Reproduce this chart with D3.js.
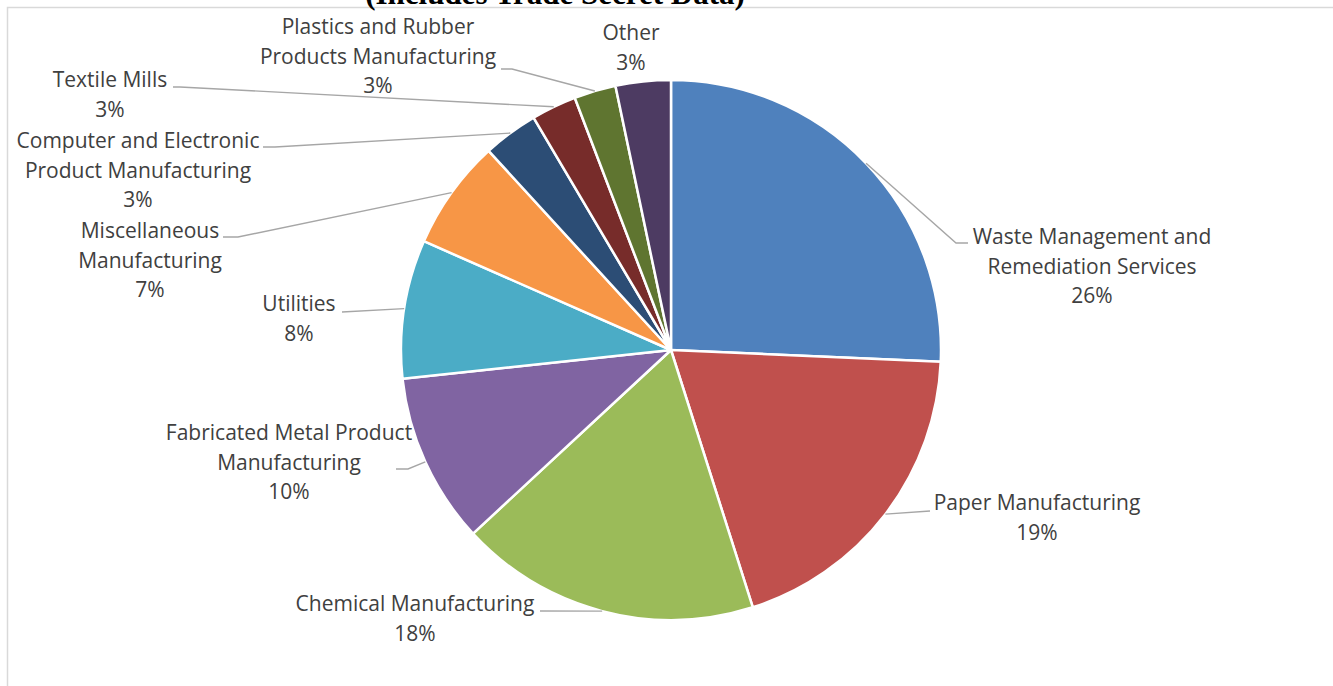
<!DOCTYPE html>
<html lang="en">
<head>
  <meta charset="UTF-8">
  <title>Pie chart - industry share</title>
  <style>
    html, body {
      margin: 0;
      padding: 0;
      background: #fff;
    }
    svg {
      display: block;
    }
    .label {
      font-family: 'Open Sans', sans-serif;
      font-size: 21px;
      fill: #404040;
    }
  </style>
  <script src="https://d3js.org/d3.v7.min.js"></script>
</head>
<body>
  <div id="chart"></div>

  <script>
    const categories = [
      "Waste Management and Remediation Services",
      "Paper Manufacturing",
      "Chemical Manufacturing",
      "Fabricated Metal Product Manufacturing",
      "Utilities",
      "Miscellaneous Manufacturing",
      "Computer and Electronic Product Manufacturing",
      "Textile Mills",
      "Plastics and Rubber Products Manufacturing",
      "Other"
    ];
    const shares = [25.7, 19.4, 18.0, 10.2, 8.3, 6.6, 3.3, 2.7, 2.5, 3.3];
    const colors = ["#4f81bd", "#c0504d", "#9bbb59", "#8064a2", "#4bacc6",
                    "#f79646", "#2c4d75", "#772c2a", "#5f7530", "#4d3b62"];
    // how each label wraps, like the original
    const labelLines = [
      ["Waste Management and", "Remediation Services"],
      ["Paper Manufacturing"],
      ["Chemical Manufacturing"],
      ["Fabricated Metal Product", "Manufacturing"],
      ["Utilities"],
      ["Miscellaneous", "Manufacturing"],
      ["Computer and Electronic", "Product Manufacturing"],
      ["Textile Mills"],
      ["Plastics and Rubber", "Products Manufacturing"],
      ["Other"]
    ];

    // label placement (center x, first line y) and leader elbow / end
    const layout = [
      { x: 1092, y: 237, elbow: [956, 243], end: [968, 243] },
      { x: 1037, y: 503, elbow: [930, 511], end: [930, 511] },
      { x: 415,  y: 604, elbow: [540, 611], end: [540, 611] },
      { x: 289,  y: 433, elbow: [408, 469], end: [396, 469] },
      { x: 299,  y: 304, elbow: [342, 312], end: [342, 312] },
      { x: 150,  y: 231, elbow: [238, 237], end: [223, 237] },
      { x: 138,  y: 141, elbow: [275, 147], end: [263, 147] },
      { x: 110,  y: 80,  elbow: [180, 87],  end: [173, 87] },
      { x: 378,  y: 27,  elbow: [512, 69],  end: [501, 69] },
      { x: 631,  y: 33,  elbow: null, end: null }
    ];

    const width = 1333;
    const height = 686;
    const cx = 671, cy = 350;
    const radius = 270;
    const lineGap = 29.5;

    const svg = d3.select("#chart")
      .append("svg")
      .attr("width", width)
      .attr("height", height);

    // frame
    svg.append("path")
      .attr("d", `M7.5,${height} V7.5 H${width}`)
      .attr("fill", "none")
      .attr("stroke", "#d9d9d9")
      .attr("stroke-width", 1.5);

    // title (mostly cut off at the top, as in the original)
    svg.append("text")
      .attr("x", 555)
      .attr("y", 4)
      .attr("text-anchor", "middle")
      .style("font-family", "'Liberation Serif', serif")
      .style("font-weight", "bold")
      .style("font-size", "31px")
      .style("fill", "#000")
      .text("(Includes Trade Secret Data)");

    const data = categories.map((c, i) => ({ label: c, value: shares[i], i: i }));

    const pie = d3.pie().sort(null).value(d => d.value);
    const data_ready = pie(data);
    const total = d3.sum(shares);

    const arc = d3.arc().innerRadius(0).outerRadius(radius);

    const g = svg.append("g")
      .attr("transform", `translate(${cx},${cy})`);

    g.selectAll("path")
      .data(data_ready)
      .join("path")
      .attr("d", arc)
      .attr("fill", d => colors[d.data.i])
      .attr("stroke", "#fff")
      .attr("stroke-width", 2.5)
      .attr("stroke-linejoin", "round");

    // leader lines: from the slice edge at mid-angle to the label
    svg.selectAll("polyline")
      .data(data_ready.filter(d => layout[d.data.i].end))
      .join("polyline")
      .attr("points", d => {
        const a = (d.startAngle + d.endAngle) / 2;
        const start = [cx + radius * Math.sin(a), cy - radius * Math.cos(a)];
        const l = layout[d.data.i];
        return [start, l.elbow, l.end];
      })
      .attr("fill", "none")
      .attr("stroke", "#a6a6a6")
      .attr("stroke-width", 1.4);

    // labels
    svg.selectAll("text.label")
      .data(data_ready)
      .join("text")
      .attr("class", "label")
      .attr("text-anchor", "middle")
      .each(function(d) {
        const l = layout[d.data.i];
        const t = d3.select(this);
        const lines = labelLines[d.data.i].concat([Math.round(d.data.value / total * 100) + "%"]);
        lines.forEach((s, k) => {
          t.append("tspan")
            .attr("x", l.x)
            .attr("y", l.y + k * lineGap)
            .attr("dy", "0.35em")
            .text(s);
        });
      });
  </script>
</body>
</html>
